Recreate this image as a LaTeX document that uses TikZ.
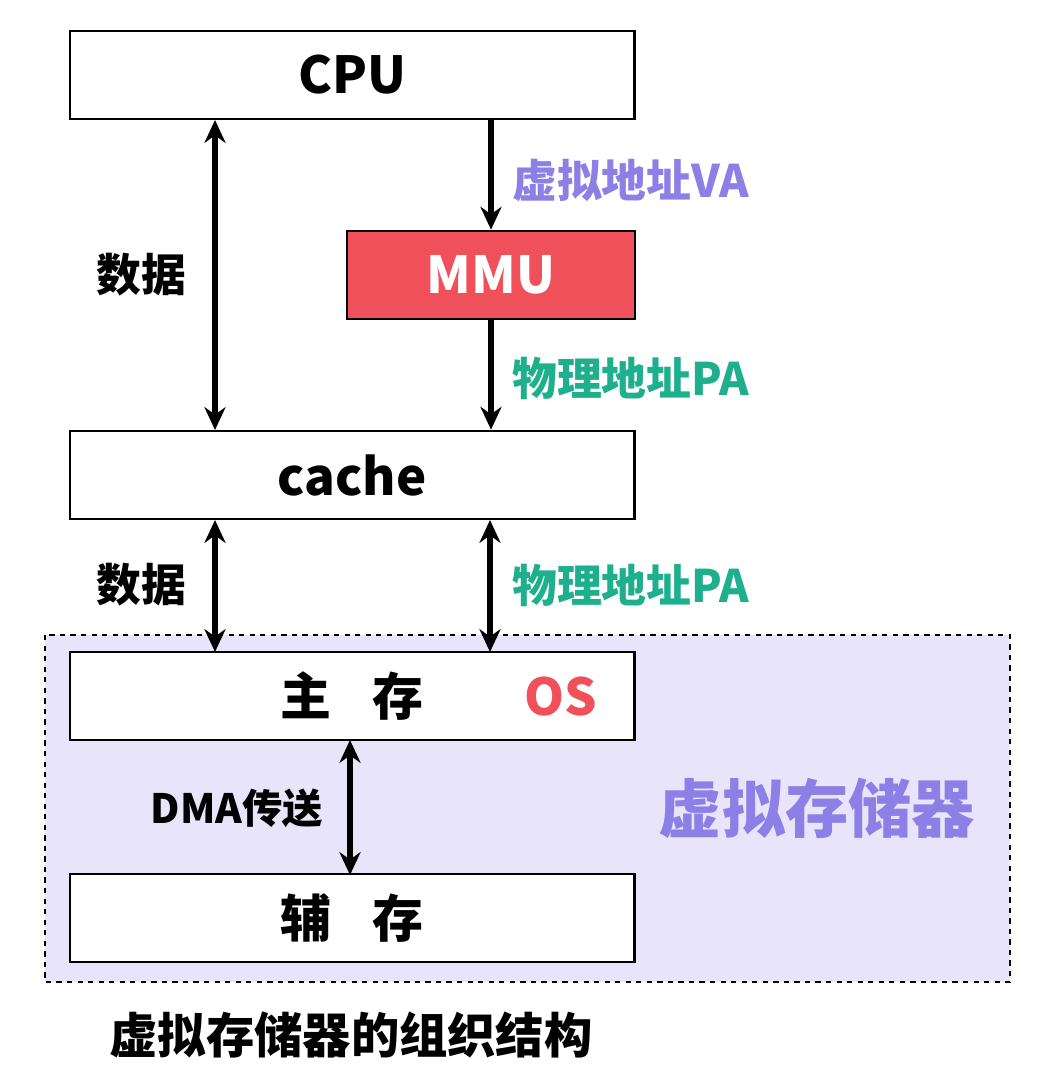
\documentclass[tikz,border=0pt]{standalone}
\usepackage{fontspec}
\setmainfont{Noto Sans CJK SC}
\usetikzlibrary{arrows.meta}
\definecolor{mmured}{HTML}{F0505A}
\definecolor{vapurple}{HTML}{8C80E6}
\definecolor{pateal}{HTML}{1EAF8C}
\definecolor{vmfill}{HTML}{E8E5FA}
\tikzset{
  box/.style={draw, line width=1.2pt, fill=white, minimum height=1.77cm, font=\bfseries\fontsize{29}{31}\selectfont},
  lab/.style={font=\bfseries\fontsize{25.5}{27}\selectfont},
  link/.style={line width=3pt, -{Stealth[length=13pt,width=12pt]}},
  both/.style={line width=3pt, {Stealth[length=13pt,width=12pt]}-{Stealth[length=13pt,width=12pt]}}
}
\begin{document}
\begin{tikzpicture}[x=0.02cm, y=-0.02cm]
    \useasboundingbox (0,0) rectangle (1041,1074);

    % virtual memory region
    \draw[dashed, line width=0.8pt, fill=vmfill] (45,635) rectangle (1010,982);

    \node[box, minimum width=11.3cm] (cpu) at (352,75) {CPU};
    \node[box, minimum width=5.76cm, fill=mmured, text=white] (mmu) at (491,275) {MMU};
    \node[box, minimum width=11.3cm] (cache) at (352,475) {cache};
    \node[box, minimum width=11.3cm] (main) at (352,696) {主\hspace{0.8em}存};
    \node[box, minimum width=11.3cm] (aux) at (352,918) {辅\hspace{0.8em}存};

    \coordinate (cpuL) at (215,120);
    \coordinate (cacheTL) at (215,430);
    \coordinate (cacheBL) at (215,520);
    \coordinate (cacheBR) at (490,520);
    \coordinate (mainTL) at (215,652);
    \coordinate (mainTR) at (490,652);
    \coordinate (mainB) at (350,740);
    \coordinate (auxT) at (350,875);

    \draw[both] (cpuL) -- (cacheTL);
    \draw[link] (cpu.south -| mmu.north) -- (mmu.north);
    \draw[link] (mmu.south) -- (cache.north -| mmu.south);
    \draw[both] (cacheBL) -- (mainTL);
    \draw[both] (cacheBR) -- (mainTR);
    \draw[both] (mainB) -- (auxT);

    \node[lab] at (141,275) {数据};
    \node[lab, text=vapurple, anchor=west] at (506,180) {虚拟地址VA};
    \node[lab, text=pateal, anchor=west] at (506,378) {物理地址PA};
    \node[lab] at (141,585) {数据};
    \node[lab, text=pateal, anchor=west] at (506,585) {物理地址PA};
    \node[font=\bfseries\fontsize{29}{31}\selectfont, text=mmured] at (561,697) {OS};
    \node[lab, font=\bfseries\fontsize{23}{25}\selectfont] at (237,808) {DMA传送};
    \node[font=\bfseries\fontsize{36}{38}\selectfont, text=vapurple] at (817,808) {虚拟存储器};
    \node[font=\bfseries\fontsize{27.5}{29}\selectfont] at (351,1035) {虚拟存储器的组织结构};
\end{tikzpicture}
\end{document}
